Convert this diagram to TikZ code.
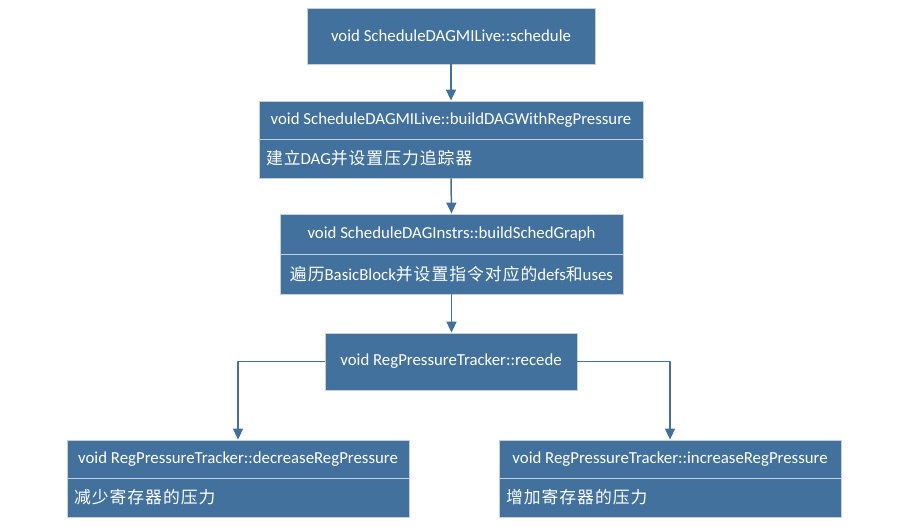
\documentclass[tikz,border=0pt]{standalone}
\usepackage{fontspec}
\setmainfont{Carlito}
\newfontfamily\cjk[Scale=1.0,LetterSpace=6]{Noto Sans CJK SC}
\newcommand\zh[1]{{\cjk #1}}
\usetikzlibrary{arrows.meta}
\definecolor{boxblue}{HTML}{41719C}
\definecolor{boxline}{HTML}{C9CFD6}
\tikzset{
  every picture/.style={
    line join=round,
  },
  fn/.style={draw=boxline, fill=boxblue, text=white, line width=0.8pt,
    font=\fontsize{16.8}{19}\selectfont, inner sep=0pt, align=center},
  fnleft/.style={fn, align=left, inner xsep=7pt, text width=#1},
  flow/.style={draw=boxblue, line width=1.5pt, -{Triangle[width=10pt,length=11pt]}},
}

\begin{document}
\begin{tikzpicture}[x=1pt,y=-1pt]
    \useasboundingbox (0,0) rectangle (912,528);
    % Top call
    \node[fn, minimum width=288, minimum height=56] (schedule) at (451,36) {void ScheduleDAGMILive::schedule};
    % Build DAG
    \node[fn, minimum width=384, minimum height=38] (build) at (451,120) {void ScheduleDAGMILive::buildDAGWithRegPressure};
    \node[fnleft=370pt, minimum height=39] (buildtxt) at (451,158.5) {\zh{建立}DAG\zh{并设置压力追踪器}};
    % Sched graph
    \node[fn, minimum width=343, minimum height=40] (graph) at (451.5,234) {void ScheduleDAGInstrs::buildSchedGraph};
    \node[fn, minimum width=343, minimum height=40] (graphtxt) at (451.5,274) {\zh{遍历}BasicBlock\zh{并设置指令对应的}defs\zh{和}uses};
    % Recede
    \node[fn, minimum width=252, minimum height=57] (recede) at (451,361.5) {void RegPressureTracker::recede};
    % Decrease / Increase
    \node[fn, minimum width=342, minimum height=38] (decrease) at (238,459) {void RegPressureTracker::decreaseRegPressure};
    \node[fnleft=328pt, minimum height=39] (decreasetxt) at (238,497.5) {\zh{减少寄存器的压力}};
    \node[fn, minimum width=342, minimum height=38] (increase) at (670,459) {void RegPressureTracker::increaseRegPressure};
    \node[fnleft=328pt, minimum height=39] (increasetxt) at (670,497.5) {\zh{增加寄存器的压力}};
    % Connectors
    \draw[flow] (schedule.south) -- (build.north);
    \draw[flow] (buildtxt.south) -- (graph.north);
    \draw[flow] (graphtxt.south) -- (graphtxt.south |- recede.north);
    \draw[flow] (recede.west) -| (decrease.north);
    \draw[flow] (recede.east) -| (increase.north);
\end{tikzpicture}
\end{document}
